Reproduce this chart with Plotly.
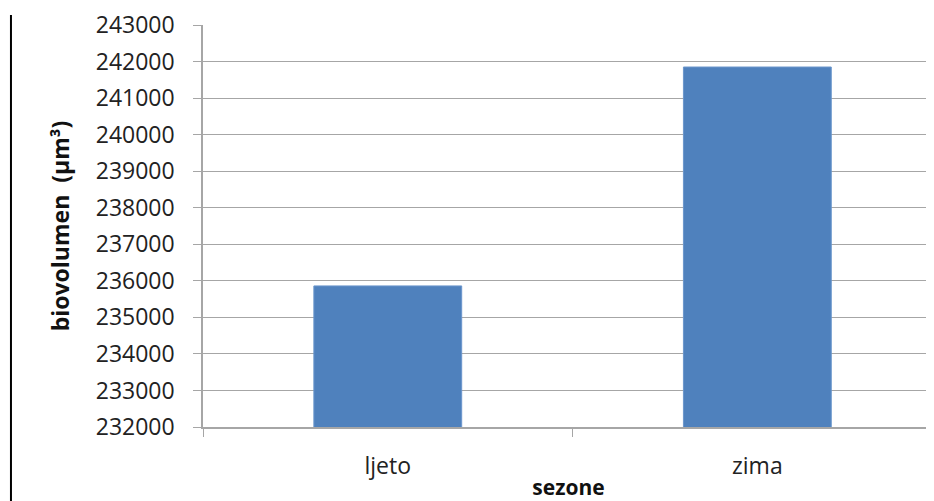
import plotly.graph_objects as go

categories = ["ljeto", "zima"]
values = [235860, 241850]
y_ticks = list(range(232000, 243001, 1000))

fig = go.Figure()
fig.add_trace(go.Bar(
    x=categories, y=values, width=0.4,
    marker=dict(color="#4F81BD", line=dict(color="#6A96CC", width=1)),
))

font_family = "Open Sans, Liberation Sans, sans-serif"
fig.update_layout(
    width=926, height=493,
    margin=dict(l=195, r=0, t=15, b=74),
    paper_bgcolor="white", plot_bgcolor="white",
    showlegend=False,
    font=dict(family=font_family, color="#222222", size=20),
)
fig.update_xaxes(
    type="category", range=[-0.5, 1.478],
    showline=True, linecolor="#A6A6A6", linewidth=1.5,
    ticks="outside", tickson="boundaries", ticklen=8, tickcolor="#A6A6A6",
    tickfont=dict(size=23, color="#222222"), ticklabelstandoff=18,
    showgrid=False,
    title=dict(text="<b>sezone</b>", font=dict(size=21, color="#111111"), standoff=0),
)
fig.update_yaxes(
    range=[232000, 243000], tickvals=y_ticks,
    ticktext=[str(v) for v in y_ticks],
    showline=True, linecolor="#A6A6A6", linewidth=1.5,
    ticks="outside", ticklen=8, tickcolor="#A6A6A6",
    showgrid=True, gridcolor="#A6A6A6", gridwidth=1.2,
    tickfont=dict(size=23, color="#222222"), ticklabelstandoff=14,
    ticklabeloverflow="allow",
    title=dict(text="<b>biovolumen  (µm³)</b>", font=dict(size=23, color="#111111"), standoff=20),
    zeroline=False,
)
fig.add_shape(type="line", xref="paper", yref="paper",
              x0=-0.2627, x1=-0.2627, y0=1.025, y1=-0.2,
              line=dict(color="black", width=2))
fig.write_html("out.html")
